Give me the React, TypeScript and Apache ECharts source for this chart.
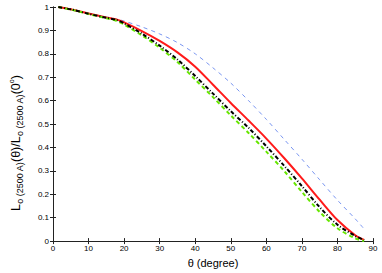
import React, { useEffect, useRef } from "react";
import * as echarts from "echarts";

const theta = [1.5, 5, 10, 15, 18, 20, 25, 30, 35, 40, 45, 50, 55, 60, 65, 70, 75, 80, 85, 87.5];
const blue = [1.0, 0.99, 0.973, 0.957, 0.948, 0.94, 0.915, 0.885, 0.848, 0.8, 0.74, 0.675, 0.6, 0.52, 0.435, 0.35, 0.262, 0.175, 0.095, 0.052];
const red = [1.0, 0.99, 0.972, 0.955, 0.946, 0.934, 0.897, 0.855, 0.806, 0.745, 0.668, 0.59, 0.515, 0.438, 0.355, 0.268, 0.177, 0.09, 0.025, 0.005];
const black = [1.0, 0.99, 0.971, 0.954, 0.944, 0.93, 0.886, 0.835, 0.776, 0.705, 0.63, 0.555, 0.484, 0.405, 0.322, 0.235, 0.145, 0.07, 0.022, 0.004];
const green = [1.0, 0.989, 0.97, 0.952, 0.94, 0.925, 0.879, 0.826, 0.765, 0.69, 0.615, 0.537, 0.462, 0.382, 0.3, 0.21, 0.125, 0.055, 0.012, 0.0];
const xTicks = [0, 10, 20, 30, 40, 50, 60, 70, 80, 90];

const pairs = (ys: number[]) => theta.map((t, i) => [t, ys[i]]);

export default function App() {
  const ref = useRef<HTMLDivElement>(null);
  useEffect(() => {
    const chart = echarts.init(ref.current!, null, { renderer: "svg" });
    const font = "Liberation Sans, Arial, sans-serif";
    const tickLabel = { color: "#000", fontSize: 8, fontFamily: font };
    chart.setOption({
      animation: false,
      grid: { left: 39, right: 9, top: 7, bottom: 24, containLabel: false },
      xAxis: [
        {
          type: "value", min: 0, max: 90, interval: 10,
          axisLine: { show: true, lineStyle: { color: "#222", width: 1 } },
          axisTick: { show: true, inside: true, length: 3, lineStyle: { color: "#222" } },
          axisLabel: { ...tickLabel, margin: 3, formatter: (v: number) => (xTicks.includes(v) ? String(v) : "") },
          splitLine: { show: false },
          name: "θ (degree)", nameLocation: "middle", nameGap: 15,
          nameTextStyle: { color: "#000", fontSize: 11, fontFamily: font },
        },
        {
          type: "value", min: 0, max: 90, interval: 10, position: "top",
          axisLine: { show: true, lineStyle: { color: "#222", width: 1 } },
          axisTick: { show: true, inside: true, length: 3, lineStyle: { color: "#222" } },
          axisLabel: { show: false }, splitLine: { show: false },
        },
      ],
      yAxis: [
        {
          type: "value", min: 0, max: 1, interval: 0.1,
          axisLine: { show: true, lineStyle: { color: "#222", width: 1 } },
          axisTick: { show: true, inside: true, length: 3, lineStyle: { color: "#222" } },
          axisLabel: { ...tickLabel, margin: 4, formatter: (v: number) => (v === 0 ? "0" : v === 1 ? "1" : v.toFixed(1)) },
          splitLine: { show: false },
          name: "{m|L}{s|o (2500 A)}{m|(θ)/L}{s|o (2500 A)}{m|(0}{sup|o}{m|)}",
          nameLocation: "middle", nameRotate: 90, nameGap: 29,
          nameTextStyle: {
            color: "#000", fontFamily: font,
            padding: [0, 38, 0, 0],
            rich: {
              m: { fontSize: 12.5, color: "#000", fontFamily: font },
              s: { fontSize: 9, color: "#000", fontFamily: font, padding: [8, 0, 0, 0] },
              sup: { fontSize: 7, color: "#000", fontFamily: font, padding: [0, 0, 8, 0] },
            },
          },
        },
        {
          type: "value", min: 0, max: 1, interval: 0.1, position: "right",
          axisLine: { show: true, lineStyle: { color: "#222", width: 1 } },
          axisTick: { show: true, inside: true, length: 3, lineStyle: { color: "#222" } },
          axisLabel: { show: false }, splitLine: { show: false },
        },
      ],
      series: [
        { type: "line", data: pairs(blue), showSymbol: false, smooth: 0.3, lineStyle: { color: "#7a96f0", width: 1, type: [4, 4] } },
        { type: "line", data: pairs(red), showSymbol: false, smooth: 0.3, lineStyle: { color: "#ff1a1a", width: 2 } },
        { type: "line", data: pairs(green), showSymbol: false, smooth: 0.3, lineStyle: { color: "#66e600", width: 2, type: [4, 3] } },
        { type: "line", data: pairs(black), showSymbol: false, smooth: 0.3, lineStyle: { color: "#000", width: 2, type: [4, 2, 1, 2] } },
      ],
    });
    return () => chart.dispose();
  }, []);
  return <div ref={ref} style={{ width: 382, height: 273, position: "absolute", left: 0, top: 0, background: "#fff" }} />;
}
